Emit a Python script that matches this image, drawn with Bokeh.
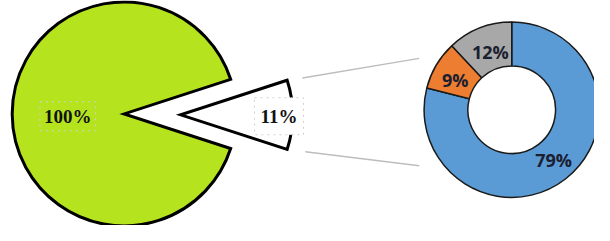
import math
from bokeh.plotting import figure
from bokeh.models import Range1d
from bokeh.core.properties import value
from bokeh.embed import file_html
from bokeh.resources import INLINE

# data
main_value = 100
main_label = "100%"
exploded_value = 11
exploded_label = "11%"
donut_values = [79, 9, 12]
donut_labels = ["79%", "9%", "12%"]
donut_colors = ["#5B9BD5", "#ED7D31", "#A8A8A8"]

W, H = 594, 225
p = figure(width=W, height=H, output_backend="svg", toolbar_location=None,
           x_range=Range1d(0, 610), y_range=Range1d(0, 241),
           min_border=0, outline_line_color=None)
p.axis.visible = False
p.grid.visible = False
p.background_fill_color = "white"
p.border_fill_color = "white"

def Y(ys):
    return 241 - ys

# main pie with exploded gap
R = 115
half_gap = math.radians(18)
p.wedge(x=[127], y=[Y(121.5)], radius=R, start_angle=half_gap, end_angle=2 * math.pi - half_gap,
        fill_color="#B5E31E", line_color="black", line_width=3, line_join="miter")
p.wedge(x=[185], y=[Y(122.5)], radius=R, start_angle=-half_gap, end_angle=half_gap,
        fill_color="white", line_color="black", line_width=3, line_join="miter")

# connector lines
p.segment(x0=[310, 313], y0=[Y(83), Y(162)], x1=[430, 430], y1=[Y(62), Y(177)],
          line_color="#BDBDBD", line_width=1.5)

# donut
cx, cy = 525, Y(117)
total = sum(donut_values)
angles = []
start = math.pi / 2
for v in donut_values:
    end = start - v / total * 2 * math.pi
    angles.append((end, start))
    start = end
starts = [a[0] for a in angles]
ends = [a[1] for a in angles]
p.annular_wedge(x=[cx] * 3, y=[cy] * 3, inner_radius=45, outer_radius=90,
                start_angle=starts, end_angle=ends, fill_color=donut_colors,
                line_color="#1a1a1a", line_width=1.5)

# labels
p.text(x=[69], y=[Y(124)], text=[main_label], text_font=value("Liberation Serif"),
       text_font_style="bold", text_font_size="19px", text_align="center",
       text_baseline="middle", text_color="#111111",
       border_line_color="#d0d0d0", border_line_dash="dotted", padding=4)
p.text(x=[286], y=[Y(124)], text=[exploded_label], text_font=value("Liberation Serif"),
       text_font_style="bold", text_font_size="19px", text_align="center",
       text_baseline="middle", text_color="#111111", background_fill_color="white",
       border_line_color="#d0d0d0", border_line_dash="dotted", padding=[6, 8])

p.text(x=[568, 467, 503], y=[Y(171), Y(85), Y(55)], text=donut_labels,
       text_font=value("Open Sans"), text_font_style="bold", text_font_size="18px",
       text_align="center", text_baseline="middle", text_color="#1b2030")

open("out.html", "w").write(file_html(p, INLINE))
